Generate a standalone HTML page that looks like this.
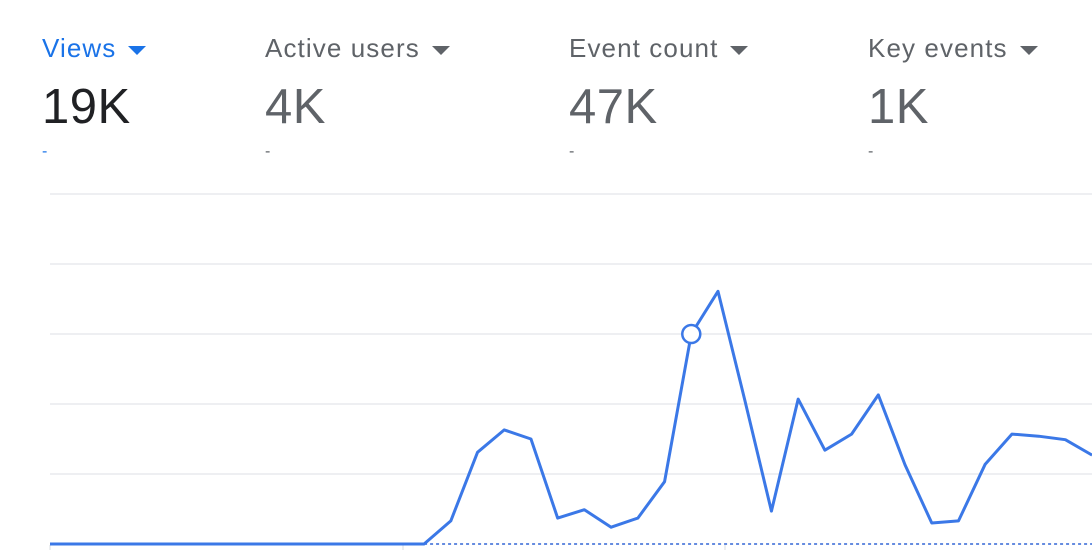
<!DOCTYPE html>
<html><head><meta charset="utf-8"><style>
body{margin:0;width:1092px;height:550px;overflow:hidden;background:#fff;font-family:"Liberation Sans",sans-serif}
.m{position:absolute;top:33px}
.t{font-size:26px;color:#5f6368;white-space:nowrap;letter-spacing:1.1px;line-height:30px}
.t span{display:inline-block;width:0;height:0;border-left:9px solid transparent;border-right:9px solid transparent;border-top:9px solid #5f6368;margin-left:12px;vertical-align:middle}
.v{font-size:49px;color:#5f6368;margin-top:16px;line-height:56px;letter-spacing:0.5px}
.d{font-size:16px;color:#5f6368;margin-top:8px}
</style></head><body>
<div class="m" style="left:42px"><div class="t" style="color:#1a73e8">Views<span style="border-top-color:#1a73e8"></span></div><div class="v" style="color:#202124">19K</div><div class="d" style="color:#1a73e8">-</div></div>
<div class="m" style="left:265px"><div class="t">Active users<span></span></div><div class="v">4K</div><div class="d">-</div></div>
<div class="m" style="left:569px"><div class="t">Event count<span></span></div><div class="v">47K</div><div class="d">-</div></div>
<div class="m" style="left:868px"><div class="t">Key events<span></span></div><div class="v">1K</div><div class="d">-</div></div>
<svg id="c" width="1092" height="550" style="position:absolute;left:0;top:0"></svg>
<script>
const values=[0,0,0,0,0,0,0,0,0,0,0,0,0,0,0,33,131,163,150,37,49,24,37,89,300,361,206,47,207,134,157,213,113,30,33,114,157,154,149,127];
const gridTicks=[0,100,200,300,400,500];
const highlight=24;
const svg=document.getElementById('c'),NS='http://www.w3.org/2000/svg';
const x=i=>50+i*26.72, y=v=>544-v*0.7;
function el(t,a,n){const e=document.createElementNS(NS,t);for(const k in a)e.setAttribute(k,a[k]);svg.appendChild(e);return e;}
gridTicks.slice(1).forEach(t=>el('line',{x1:50,x2:1092,y1:y(t),y2:y(t),stroke:'#e8eaed','stroke-width':1.5},'gridline'));
[50,403,725].forEach(px=>el('line',{x1:px,x2:px,y1:545,y2:550,stroke:'#dadce0'},'x-tick'));
el('line',{x1:x(14),x2:1092,y1:y(0),y2:y(0),stroke:'#3367d6','stroke-width':1.5,'stroke-dasharray':'3,3'},'comparison-line');
el('polyline',{points:values.map((v,i)=>x(i)+','+y(v)).join(' '),fill:'none',stroke:'#3b78e7','stroke-width':3,'stroke-linejoin':'round'},'views-line');
el('circle',{cx:x(highlight),cy:y(values[highlight]),r:9,fill:'#fff',stroke:'#3b78e7','stroke-width':2.5},'highlight-point');
</script>
</body></html>
